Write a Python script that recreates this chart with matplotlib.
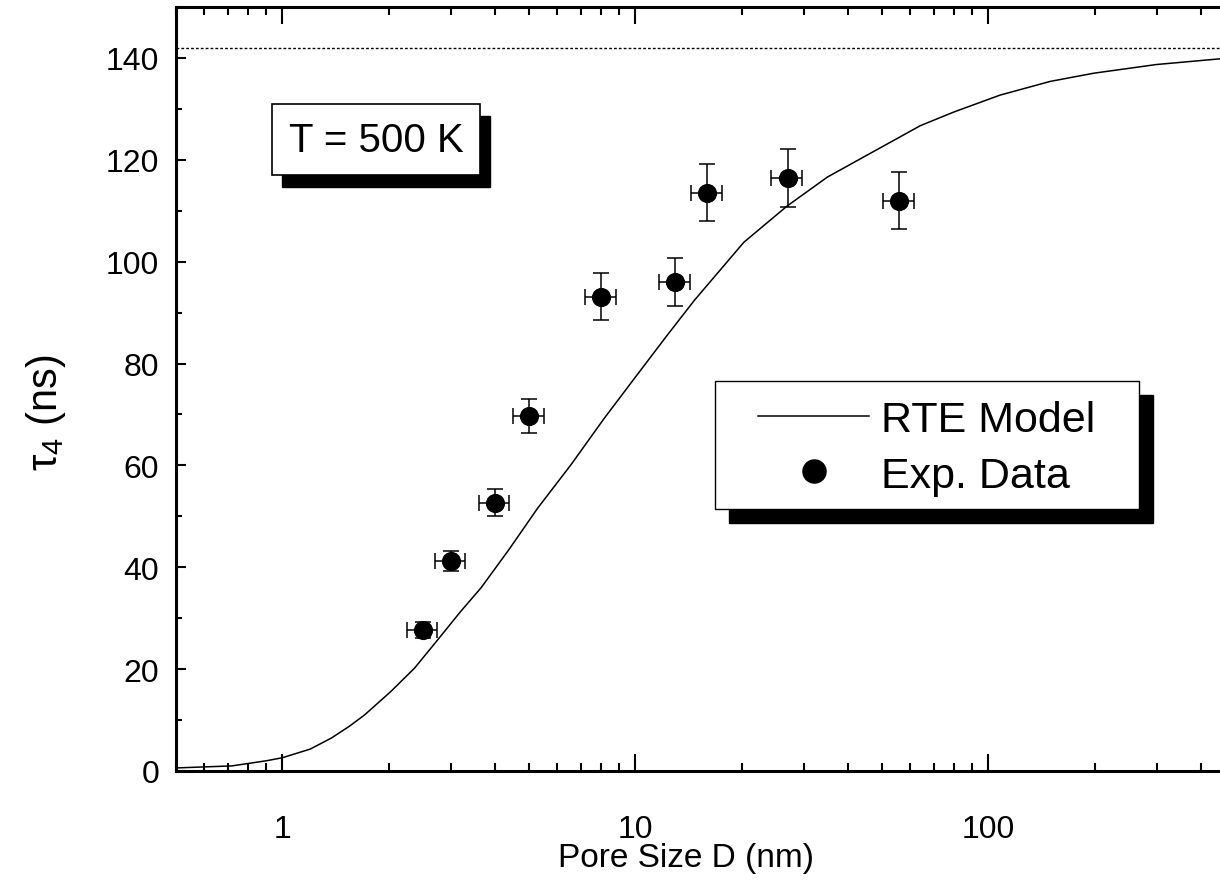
import matplotlib
matplotlib.use("Agg")
import matplotlib.pyplot as plt
from matplotlib.ticker import FixedLocator, NullFormatter, LogLocator
from matplotlib.patches import Rectangle
from matplotlib.transforms import IdentityTransform

plt.rcParams['font.family'] = ['Liberation Sans', 'DejaVu Sans']
plt.rcParams['mathtext.fontset'] = 'custom'
plt.rcParams['mathtext.rm'] = 'Liberation Sans'
plt.rcParams['mathtext.it'] = 'Liberation Sans'

# ---- data ----
model_x = [0.5, 0.72, 0.9, 1.0, 1.2, 1.38, 1.55, 1.71, 2.03, 2.37, 2.76, 3.2, 3.66, 4.4,
           5.29, 6.57, 8.16, 10.1, 12.3, 14.7, 20.3, 26.9, 35.0, 48.4, 64.2, 80,
           108, 150, 199, 299, 449, 500]
model_y = [0.6, 1.0, 2.0, 2.6, 4.3, 6.5, 8.8, 11.0, 15.6, 20.2, 25.8, 31.3, 36.0, 43.6,
           51.6, 60.1, 69.2, 77.7, 85.5, 92.4, 103.8, 110.9, 116.6, 122.0, 126.7, 129.4,
           132.7, 135.4, 137.0, 138.7, 139.8, 140.0]

exp_x = [2.5, 3, 4, 5, 8, 13, 16, 27, 56]
exp_y = [27.7, 41.2, 52.7, 69.7, 93.1, 96.0, 113.5, 116.4, 112.0]
exp_yerr = [1.5, 2.0, 2.6, 3.4, 4.6, 4.8, 5.6, 5.7, 5.6]
exp_xerr = [0.25, 0.3, 0.4, 0.5, 0.8, 1.3, 1.6, 2.7, 5.6]

limit_y = 142
x_ticks = [1, 10, 100]
x_tick_labels = ['1', '10', '100']
y_ticks = [0, 20, 40, 60, 80, 100, 120, 140]

W, H = 1220, 895
fig = plt.figure(figsize=(W / 100, H / 100), dpi=100)
AX_L, AX_R, AX_T, AX_B = 176, 1235, 8, 772
ax = fig.add_axes([AX_L / W, 1 - AX_B / H, (AX_R - AX_L) / W, (AX_B - AX_T) / H])


def axfrac(px, py):
    return (px - AX_L) / (AX_R - AX_L), (AX_B - py) / (AX_B - AX_T)


ax.set_xscale('log')
ax.set_xlim(0.5, 500)
ax.set_ylim(0, 150)

ax.axhline(limit_y, color='black', lw=1.0, ls=(0, (2, 1.5)), zorder=1)
line, = ax.plot(model_x, model_y, color='black', lw=1.1, label='RTE Model', zorder=2)
ax.errorbar(exp_x, exp_y, yerr=exp_yerr, xerr=exp_xerr, fmt='none',
            ecolor='black', elinewidth=1.1, capsize=5.8, capthick=1.1, zorder=3)
pts, = ax.plot(exp_x, exp_y, 'o', color='black', ms=12.8, label='Exp. Data', zorder=4)

for s in ax.spines.values():
    s.set_linewidth(2.2)

ax.xaxis.set_major_locator(FixedLocator(x_ticks))
ax.set_xticklabels(x_tick_labels)
ax.xaxis.set_minor_locator(LogLocator(base=10, subs=range(2, 10)))
ax.xaxis.set_minor_formatter(NullFormatter())
ax.set_yticks(y_ticks)
ax.set_yticks(range(10, 150, 20), minor=True)

ax.tick_params(axis='x', which='major', direction='in', length=12, width=1.5,
               top=True, labelsize=23, pad=31)
ax.tick_params(axis='x', which='minor', direction='in', length=6, width=1.5, top=True)
ax.tick_params(axis='y', which='major', direction='in', length=7, width=1.5,
               right=True, labelsize=23, pad=12)
ax.tick_params(axis='y', which='minor', direction='in', length=4, width=1.5, right=True)

ax.set_xlabel('Pore Size D (nm)', fontsize=24)
ax.xaxis.set_label_coords(*axfrac(686, 843))
ax.set_ylabel(r'$\tau_4$ (ns)', fontsize=30)
ax.yaxis.set_label_coords(*axfrac(68, 413))

# T = 500 K box
tx, ty = axfrac(376, 140.5)
tbox = ax.text(tx, ty, 'T = 500 K', transform=ax.transAxes, fontsize=29, ha='center', va='center',
               bbox=dict(boxstyle='square,pad=0.42', fc='white', ec='black', lw=1.2), zorder=6)

# legend: frame and shadow drawn as rectangles, entries by matplotlib
LG_L, LG_R, LG_T, LG_B = 715, 1139, 382, 510
SH = 14
x0, y0 = axfrac(LG_L, LG_B)
x1, y1 = axfrac(LG_R, LG_T)
ax.add_patch(Rectangle(axfrac(LG_L + SH, LG_B + SH), x1 - x0, y1 - y0, transform=ax.transAxes,
                       facecolor='black', edgecolor='black', lw=1.0, zorder=7))
ax.add_patch(Rectangle((x0, y0), x1 - x0, y1 - y0, transform=ax.transAxes,
                       facecolor='white', edgecolor='black', lw=1.0, zorder=8))

leg = ax.legend(handles=[line, pts], loc='center', bbox_to_anchor=axfrac(927, 449),
                fontsize=31, frameon=False, handlelength=2.58, handletextpad=0.28,
                borderpad=0, labelspacing=0.35, borderaxespad=0, markerscale=1.3)
leg.set_zorder(9)

# black shadow behind the T box
fig.canvas.draw()
bb = tbox.get_bbox_patch().get_window_extent()
ax.add_artist(Rectangle((bb.x0 + 10, bb.y0 - 12), bb.width, bb.height, transform=IdentityTransform(),
                        facecolor='black', edgecolor='black', lw=1.0, zorder=5))

fig.savefig('out.png', dpi=100)
